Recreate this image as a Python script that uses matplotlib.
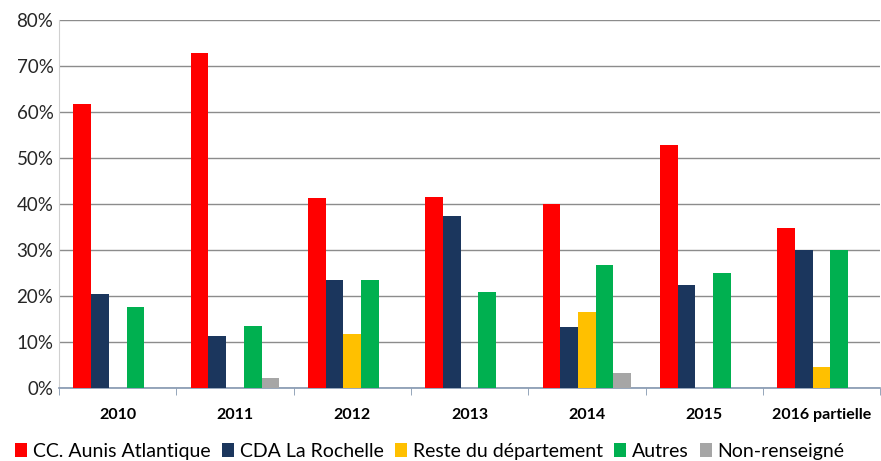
import numpy as np
import matplotlib.pyplot as plt
from matplotlib.ticker import FuncFormatter, FixedLocator

years = ['2010', '2011', '2012', '2013', '2014', '2015', '2016 partielle']
series = ['CC. Aunis Atlantique', 'CDA La Rochelle', 'Reste du département',
          'Autres', 'Non-renseigné']
aunis = [61.7, 72.8, 41.2, 41.6, 40.0, 52.8, 34.8]
rochelle = [20.5, 11.4, 23.6, 37.5, 13.3, 22.3, 30.1]
reste = [0, 0, 11.8, 0, 16.6, 0, 4.6]
autres = [17.6, 13.5, 23.6, 20.9, 26.7, 25.0, 30.1]
non_renseigne = [0, 2.1, 0, 0, 3.3, 0, 0]
colors = ['#FF0000', '#1B365D', '#FFC000', '#00B050', '#A6A6A6']

plt.rcParams['font.family'] = ['Lato', 'DejaVu Sans']

fig = plt.figure(figsize=(8.81, 4.61), dpi=100)
ax = fig.add_axes([0.067, 0.158, 0.932, 0.799])

x = np.arange(len(years))
w = 0.151
for i, (vals, name, c) in enumerate(zip([aunis, rochelle, reste, autres, non_renseigne],
                                        series, colors)):
    ax.bar(x + (i - 2) * w, vals, width=w, color=c, label=name, zorder=3)

ax.set_xlim(-0.5, len(years) - 0.5)
ax.set_ylim(0, 80)
ax.set_yticks(np.arange(0, 81, 10))
ax.yaxis.set_major_formatter(FuncFormatter(lambda v, p: f'{v:.0f}%'))
ax.grid(axis='y', color='#8C8C8C', lw=1, zorder=0)
ax.tick_params(axis='y', length=0, labelsize=13.5, labelcolor='#262626', pad=4)

ax.set_xticks(x)
ax.set_xticklabels(years, fontweight='bold', fontsize=11.5)
ax.tick_params(axis='x', which='major', length=0, pad=14)
ax.xaxis.set_minor_locator(FixedLocator(np.arange(-0.5, len(years), 1)))
ax.tick_params(axis='x', which='minor', length=5, color='#8497B0', direction='out')

for s in ['top', 'right']:
    ax.spines[s].set_visible(False)
ax.spines['left'].set_color('#D0D0D0')
ax.spines['bottom'].set_color('#8497B0')
ax.spines['bottom'].set_linewidth(1.2)

fig.legend(loc='lower center', bbox_to_anchor=(0.488, -0.035), ncol=5, frameon=False,
           fontsize=14, handlelength=0.6, handleheight=0.7, handletextpad=0.3,
           columnspacing=0.6)

fig.savefig('out.png', dpi=100)
